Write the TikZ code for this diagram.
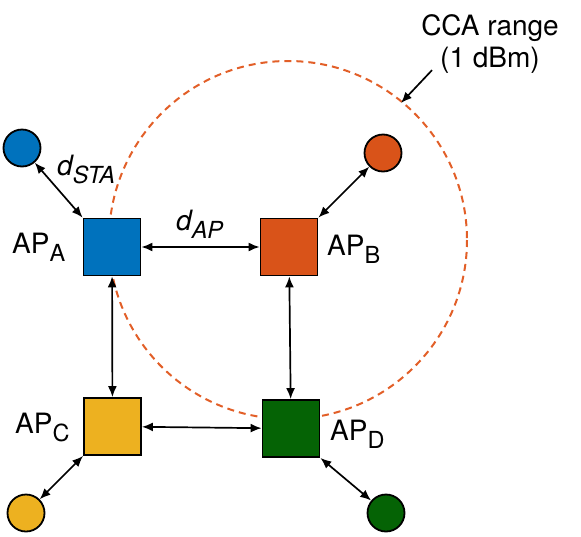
\documentclass[tikz,border=0pt]{standalone}
\usepackage{fontspec}
\setmainfont{TeX Gyre Heros}
\usetikzlibrary{arrows.meta}
\definecolor{mblue}{RGB}{0,114,189}
\definecolor{morange}{RGB}{217,83,25}
\definecolor{myellow}{RGB}{237,177,32}
\definecolor{mgreen}{RGB}{5,99,5}
\definecolor{rangecol}{RGB}{226,95,40}
\newcommand{\mysub}[1]{\raisebox{-8.5pt}{\fontsize{23.5}{24}\selectfont #1}}
\begin{document}
\begin{tikzpicture}[x=1pt,y=-1pt,
  apbox/.style={draw=black,line width=1.8pt,minimum size=57pt,inner sep=0pt},
  sta/.style={circle,draw=black,line width=1.8pt,minimum size=37pt,inner sep=0pt},
  lbl/.style={inner sep=0pt,anchor=base west,font=\fontsize{28}{32}\selectfont},
  link/.style={line width=1.7pt,{Latex[length=11pt,width=9pt]}-{Latex[length=11pt,width=9pt]}},
  pointer/.style={line width=1.7pt,-{Latex[length=11pt,width=9pt]}}]
\useasboundingbox (0,0) rectangle (581,536);
% CCA range circle
\draw[rangecol,line width=2pt,dash pattern=on 7pt off 5pt] (288,240) circle (179);
% APs
\node[apbox,fill=mblue] (A) at (112,247) {};
\node[apbox,fill=morange] (B) at (289,247) {};
\node[apbox,fill=myellow] (C) at (112.5,426.5) {};
\node[apbox,fill=mgreen] (D) at (291,428.5) {};
% stations
\node[sta,fill=mblue] (sA) at (22,148) {};
\node[sta,fill=morange] (sB) at (383,153) {};
\node[sta,fill=myellow] (sC) at (26,513) {};
\node[sta,fill=mgreen] (sD) at (386,513) {};
% links
\draw[link] (A) -- (B);
\draw[link] (C) -- (D);
\draw[link] (A) -- (C);
\draw[link] (B) -- (D);
\draw[link] (sA) -- (A.north west);
\draw[link] (sB) -- (B.north east);
\draw[link] (sC) -- (C.south west);
\draw[link] (sD) -- (D.south east);
% labels
\node[lbl] (lA) at (12,253) {AP\mysub{A}};
\node[lbl] (lB) at (327,255) {AP\mysub{B}};
\node[lbl] (lC) at (15,433) {AP\mysub{C}};
\node[lbl] (lD) at (330,440) {AP\mysub{D}};
\node[lbl] (dsta) at (57,175) {\itshape d\mysub{\itshape STA}};
\node[lbl] (dap) at (176,230) {\itshape d\mysub{\itshape AP}};
\node[lbl,anchor=base] (cca1) at (490,35) {CCA range};
\node[lbl,anchor=base] (cca2) at (490,67) {(1 dBm)};
\coordinate (tip) at (401,103);
\draw[pointer] (cca2.south west) ++(-8,-3) coordinate (ps) (ps) -- (tip);
\end{tikzpicture}
\end{document}
